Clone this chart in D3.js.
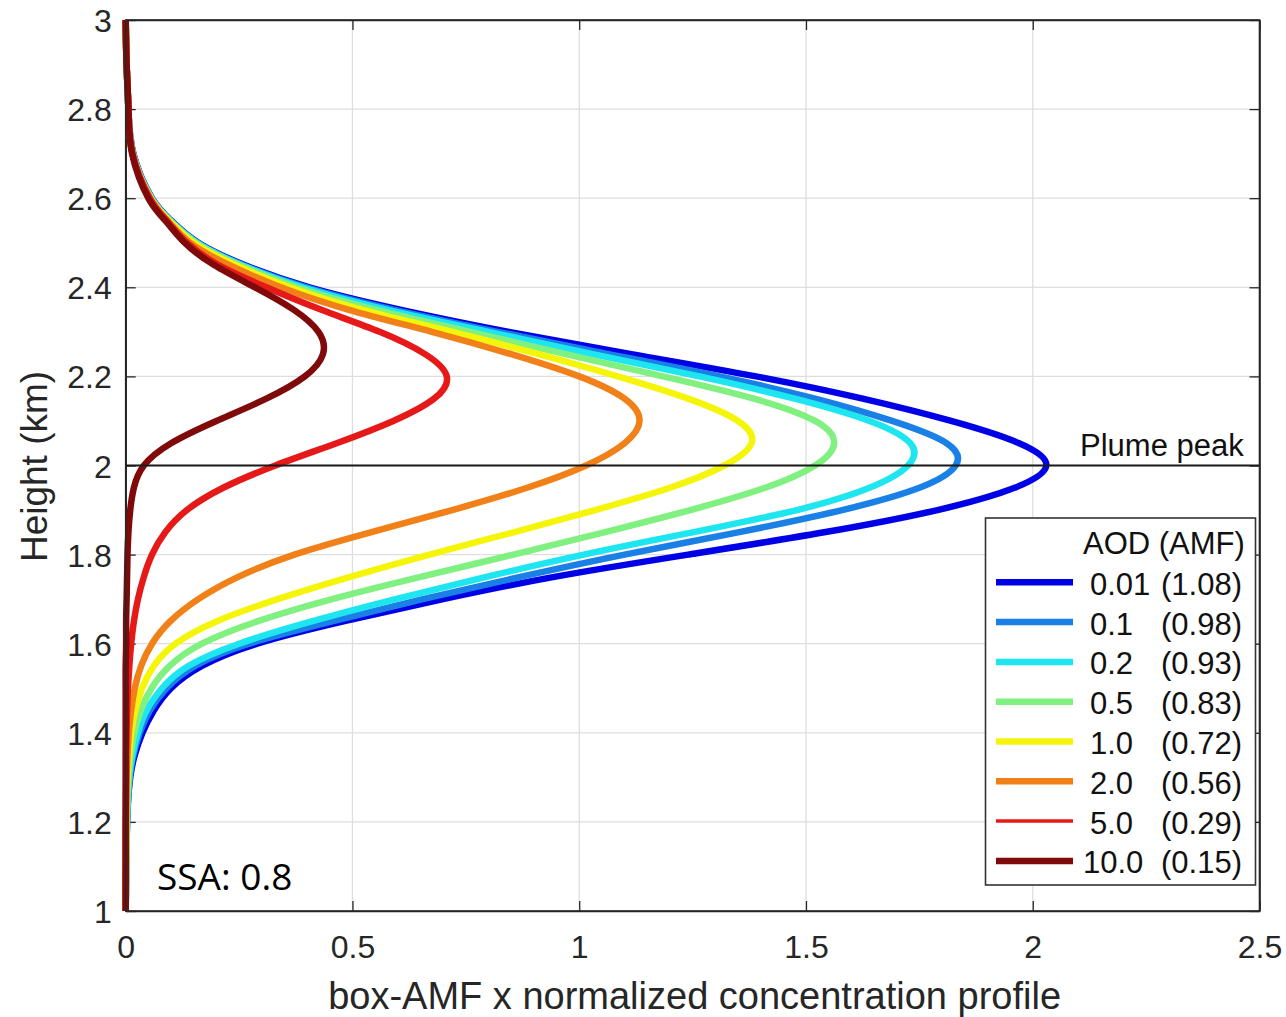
<!DOCTYPE html>
<html>
<head>
<meta charset="utf-8">
<script src="https://cdn.jsdelivr.net/npm/d3@7"></script>
<style>
  html, body { margin: 0; padding: 0; background: #fff; }
  svg { display: block; }
  .tick-label { font-family: "Liberation Sans", Arial, sans-serif; font-size: 32px; fill: #262626; }
  .axis-title { font-family: "Liberation Sans", Arial, sans-serif; fill: #262626; }
  .legend-text { font-family: "Liberation Sans", Arial, sans-serif; font-size: 31px; fill: #111; }
</style>
</head>
<body>
<svg id="chart" width="1286" height="1017"></svg>
<script>
// Heights (km) at which each weighted profile is sampled
const heights = [1.0, 1.2, 1.3, 1.35, 1.4, 1.45, 1.5, 1.55, 1.6, 1.65, 1.7, 1.75, 1.8, 1.85, 1.9, 1.95,
                 2.0, 2.05, 2.1, 2.15, 2.2, 2.25, 2.3, 2.35, 2.4, 2.45, 2.5, 2.55, 2.6, 2.7, 2.8, 2.9, 3.0];

// box-AMF x normalized concentration profile, one array per aerosol optical depth
const aod001 = [0, 0.003, 0.01, 0.02, 0.037, 0.062, 0.10, 0.168, 0.29, 0.48, 0.70, 0.945, 1.24, 1.54, 1.79, 1.96,
                2.03, 1.97, 1.82, 1.625, 1.39, 1.115, 0.845, 0.605, 0.405, 0.262, 0.16, 0.10, 0.058, 0.017, 0.006, 0.002, 0];
const aod01  = [0, 0.003, 0.009, 0.017, 0.031, 0.053, 0.09, 0.153, 0.272, 0.455, 0.655, 0.87, 1.10, 1.35, 1.58, 1.75,
                1.83, 1.81, 1.69, 1.52, 1.31, 1.065, 0.82, 0.59, 0.398, 0.258, 0.158, 0.099, 0.057, 0.016, 0.006, 0.002, 0];
const aod02  = [0, 0.003, 0.008, 0.015, 0.027, 0.046, 0.08, 0.138, 0.25, 0.41, 0.595, 0.795, 1.01, 1.25, 1.48, 1.64,
                1.725, 1.73, 1.64, 1.475, 1.265, 1.03, 0.80, 0.575, 0.39, 0.255, 0.157, 0.098, 0.057, 0.016, 0.006, 0.002, 0];
const aod05  = [0, 0.002, 0.006, 0.011, 0.019, 0.033, 0.057, 0.097, 0.168, 0.29, 0.455, 0.65, 0.855, 1.055, 1.245, 1.41,
                1.52, 1.562, 1.52, 1.385, 1.185, 0.97, 0.76, 0.55, 0.378, 0.25, 0.154, 0.097, 0.056, 0.016, 0.006, 0.002, 0];
const aod1   = [0, 0.001, 0.004, 0.007, 0.012, 0.021, 0.036, 0.062, 0.11, 0.2, 0.335, 0.495, 0.67, 0.855, 1.035, 1.2,
                1.32, 1.38, 1.35, 1.24, 1.085, 0.91, 0.72, 0.52, 0.362, 0.242, 0.15, 0.095, 0.055, 0.015, 0.006, 0.002, 0];
const aod2   = [0, 0.001, 0.002, 0.004, 0.007, 0.012, 0.02, 0.034, 0.058, 0.098, 0.16, 0.248, 0.372, 0.54, 0.72, 0.885,
                1.015, 1.10, 1.133, 1.10, 1.0, 0.85, 0.675, 0.49, 0.342, 0.228, 0.142, 0.092, 0.054, 0.015, 0.006, 0.002, 0];
const aod5   = [0, 0, 0.001, 0.001, 0.002, 0.003, 0.005, 0.008, 0.012, 0.018, 0.027, 0.04, 0.058, 0.087, 0.135, 0.215,
                0.33, 0.465, 0.59, 0.68, 0.708, 0.66, 0.56, 0.43, 0.31, 0.205, 0.135, 0.09, 0.053, 0.015, 0.006, 0.002, 0];
const aod10  = [0, 0, 0, 0, 0, 0, 0, 0, 0.001, 0.001, 0.002, 0.003, 0.004, 0.006, 0.01, 0.018,
                0.04, 0.10, 0.20, 0.31, 0.395, 0.435, 0.425, 0.37, 0.285, 0.195, 0.13, 0.087, 0.05, 0.014, 0.006, 0.002, 0];

const aodLabels = ["0.01", "0.1", "0.2", "0.5", "1.0", "2.0", "5.0", "10.0"];
const amfLabels = ["(1.08)", "(0.98)", "(0.93)", "(0.83)", "(0.72)", "(0.56)", "(0.29)", "(0.15)"];
const seriesValues = [aod001, aod01, aod02, aod05, aod1, aod2, aod5, aod10];

const xTicks = [0, 0.5, 1, 1.5, 2, 2.5];
const xTickLabels = ["0", "0.5", "1", "1.5", "2", "2.5"];
const yTicks = [1, 1.2, 1.4, 1.6, 1.8, 2, 2.2, 2.4, 2.6, 2.8, 3];
const yTickLabels = ["1", "1.2", "1.4", "1.6", "1.8", "2", "2.2", "2.4", "2.6", "2.8", "3"];
const plumePeak = 2.0;

// Styling
const colors = ["#0000e6", "#1a80e6", "#1ee6f0", "#80f080", "#f5f50a", "#f28018", "#e61919", "#800a0a"];
const legendWidths = [6.5, 6.5, 6.5, 6.5, 6.5, 6.5, 3.5, 6.5];

const svg = d3.select("#chart");
const plotLeft = 125.7, plotRight = 1259.5, plotTop = 20, plotBottom = 911;

const x = d3.scaleLinear().domain([0, 2.5]).range([plotLeft, plotRight]);
const y = d3.scaleLinear().domain([1, 3]).range([plotBottom, plotTop]);

// Grid
const grid = svg.append("g");
grid.selectAll("line.gx").data(xTicks.slice(1, -1)).join("line")
  .attr("x1", d => x(d)).attr("x2", d => x(d)).attr("y1", plotTop).attr("y2", plotBottom)
  .attr("stroke", "#dedede").attr("stroke-width", 1.3);
grid.selectAll("line.gy").data(yTicks.slice(1, -1)).join("line")
  .attr("y1", d => y(d)).attr("y2", d => y(d)).attr("x1", plotLeft).attr("x2", plotRight)
  .attr("stroke", "#dedede").attr("stroke-width", 1.3);

// Axes with inward ticks on all four sides
const axisColor = "#262626";
const axB = svg.append("g").attr("transform", `translate(0,${plotBottom})`)
  .call(d3.axisBottom(x).tickValues(xTicks).tickSizeInner(-10).tickSizeOuter(0).tickFormat((d, i) => xTickLabels[i]));
const axT = svg.append("g").attr("transform", `translate(0,${plotTop})`)
  .call(d3.axisTop(x).tickValues(xTicks).tickSizeInner(-10).tickSizeOuter(0).tickFormat(""));
const axL = svg.append("g").attr("transform", `translate(${plotLeft},0)`)
  .call(d3.axisLeft(y).tickValues(yTicks).tickSizeInner(-10).tickSizeOuter(0).tickFormat((d, i) => yTickLabels[i]));
const axR = svg.append("g").attr("transform", `translate(${plotRight},0)`)
  .call(d3.axisRight(y).tickValues(yTicks).tickSizeInner(-10).tickSizeOuter(0).tickFormat(""));
[axB, axT, axL, axR].forEach(g => {
  g.select(".domain").attr("stroke", axisColor).attr("stroke-width", 1.6);
  g.selectAll(".tick line").attr("stroke", axisColor).attr("stroke-width", 1.3);
});
axB.selectAll(".tick text").attr("class", "tick-label").attr("font-size", null).attr("font-family", null)
  .attr("y", 24).attr("dy", "0.71em");
axL.selectAll(".tick text").attr("class", "tick-label").attr("font-size", null).attr("font-family", null)
  .attr("x", -14).attr("dy", "0.36em");

// Profiles: smooth spline through the sampled heights
const line = d3.line()
  .x(d => x(d[0]))
  .y(d => y(d[1]))
  .curve(d3.curveNatural);

svg.append("g").selectAll("path").data(seriesValues).join("path")
  .attr("d", vals => line(vals.map((v, i) => [v, heights[i]])))
  .attr("fill", "none")
  .attr("stroke", (d, i) => colors[i])
  .attr("stroke-width", 6.5)
  .attr("stroke-linejoin", "round")
  .attr("stroke-linecap", "butt");

// Plume peak marker
svg.append("line")
  .attr("x1", x(0)).attr("x2", x(2.5)).attr("y1", y(plumePeak)).attr("y2", y(plumePeak))
  .attr("stroke", "#1a1a1a").attr("stroke-width", 1.8);
svg.append("text").attr("class", "legend-text")
  .attr("x", 1080).attr("y", 456).attr("font-size", 30).text("Plume peak");

// Box outline
svg.append("rect").attr("x", plotLeft).attr("y", plotTop).attr("width", plotRight - plotLeft).attr("height", plotBottom - plotTop)
  .attr("fill", "none").attr("stroke", axisColor).attr("stroke-width", 1.6);

// Legend
const lg = svg.append("g");
lg.append("rect").attr("x", 985.5).attr("y", 518).attr("width", 270).attr("height", 367)
  .attr("fill", "#fff").attr("stroke", "#333").attr("stroke-width", 1.6);
lg.append("text").attr("class", "legend-text").attr("x", 1083).attr("y", 554).text("AOD (AMF)");
const rows = lg.selectAll("g.row").data(aodLabels).join("g")
  .attr("transform", (d, i) => `translate(0,${582.3 + i * 39.8})`);
rows.append("line").attr("x1", 996).attr("x2", 1073).attr("y1", 0).attr("y2", 0)
  .attr("stroke", (d, i) => colors[i]).attr("stroke-width", (d, i) => legendWidths[i]);
rows.append("text").attr("class", "legend-text")
  .attr("x", d => d === "10.0" ? 1083 : 1090).attr("y", 12.5).text(d => d);
rows.append("text").attr("class", "legend-text")
  .attr("x", 1161).attr("y", 12.5).text((d, i) => amfLabels[i]);

// Annotation
svg.append("text").attr("x", 157).attr("y", 890)
  .attr("font-family", "'Open Sans', 'Noto Sans', sans-serif").attr("font-size", 37).attr("fill", "#000")
  .text("SSA: 0.8");

// Axis titles
svg.append("text").attr("class", "axis-title").attr("font-size", 38)
  .attr("x", (plotLeft + plotRight) / 2 + 2).attr("y", 1009).attr("text-anchor", "middle")
  .text("box-AMF x normalized concentration profile");
svg.append("text").attr("class", "axis-title").attr("font-size", 37)
  .attr("transform", `translate(47,${(plotTop + plotBottom) / 2 + 1}) rotate(-90)`).attr("text-anchor", "middle")
  .text("Height (km)");
</script>
</body>
</html>
